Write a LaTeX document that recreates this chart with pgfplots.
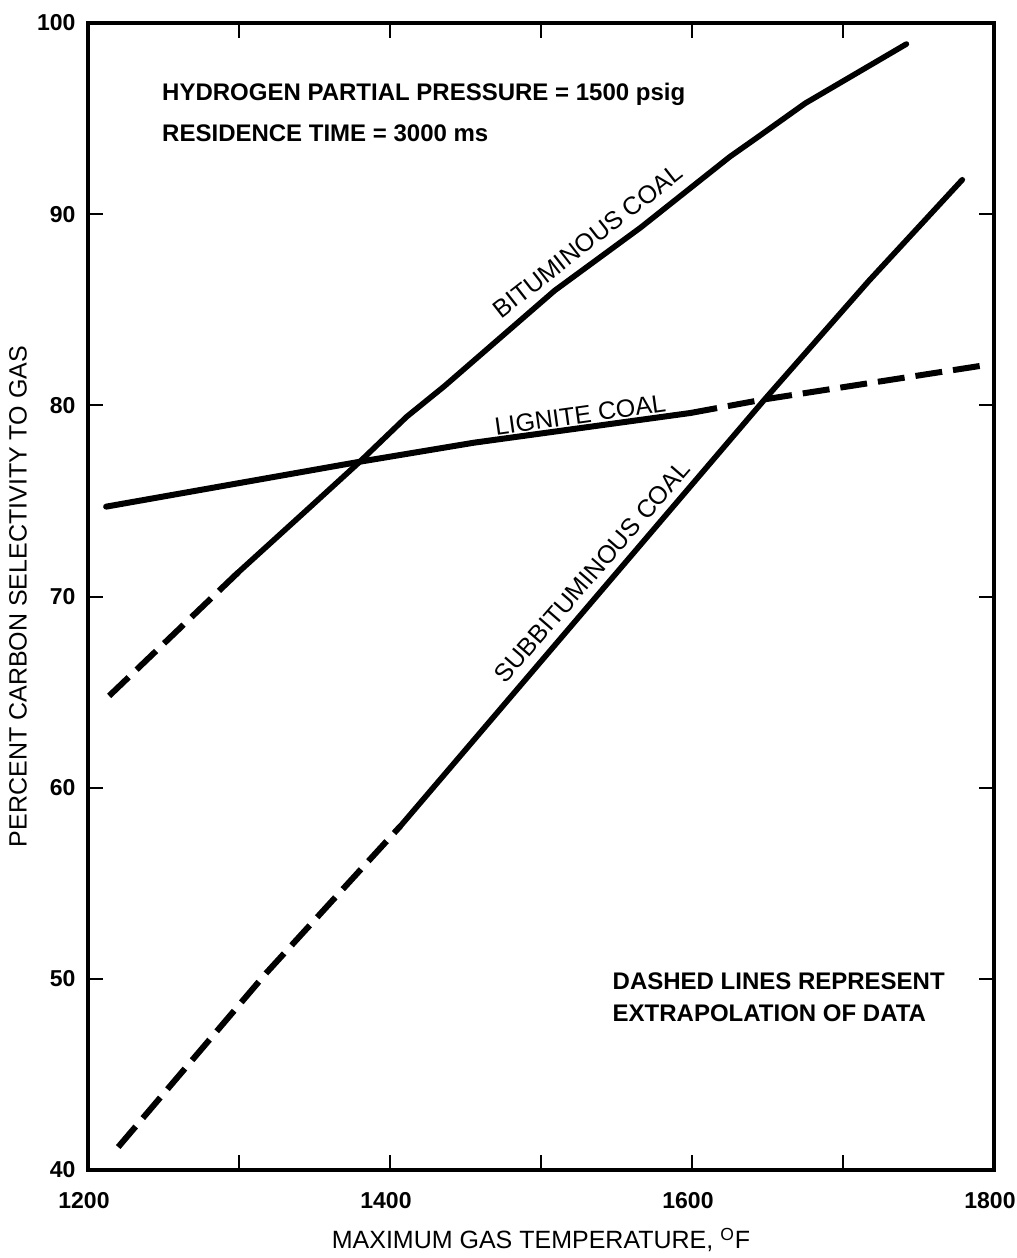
\documentclass[border=0pt]{standalone}
\usepackage{pgfplots}
\pgfplotsset{compat=1.18}
\usepackage{fontspec}
\setmainfont{Liberation Sans}

\begin{document}
\begin{tikzpicture}
\useasboundingbox (-44pt,-44pt) rectangle (464.5pt,585pt);
\begin{axis}[
  at={(0,0)}, anchor=south west,
  scale only axis, width=453pt, height=573.5pt,
  xmin=1200, xmax=1800, ymin=40, ymax=100,
  xtick={1200,1300,1400,1500,1600,1700,1800},
  xticklabels={1200,,1400,,1600,,1800},
  ytick={40,50,60,70,80,90,100},
  tick align=inside,
  major tick length=7.5pt,
  every tick/.style={black, line width=1pt},
  axis line style={line width=1.75pt},
  tick label style={font=\fontsize{11.5}{13}\selectfont\bfseries},
  /pgf/number format/assume math mode=true,
  /pgf/number format/1000 sep={},
  xticklabel style={yshift=-7.5pt, xshift=-2pt},
  yticklabel style={xshift=-2.7pt},
  every axis x label/.style={at={(rel axis cs:0.5,0)}, anchor=center, yshift=-35pt},
  every axis y label/.style={at={(rel axis cs:0,0.5)}, anchor=center, xshift=-35pt, rotate=90},
  xlabel={MAXIMUM GAS TEMPERATURE, \textsuperscript{O}F},
  ylabel={PERCENT CARBON SELECTIVITY TO GAS},
  label style={font=\fontsize{12.5}{14}\selectfont},
  clip=false,
]
% Lignite coal
\addplot[black, line width=3pt, line cap=round] coordinates {
  (1212,74.7) (1380,77.05) (1456,78.05) (1599,79.6)
};
\addplot[black, line width=3pt, dash pattern=on 13.5pt off 5.5pt] coordinates {
  (1599,79.6) (1647,80.3) (1794,82.1)
};
% Bituminous coal
\addplot[black, line width=3pt, dash pattern=on 13.5pt off 5.5pt] coordinates {
  (1214,64.8) (1300,71.3)
};
\addplot[black, line width=2.8pt, line cap=round, line join=round] coordinates {
  (1300,71.3) (1346,74.6) (1380,77.05) (1411,79.4) (1436,81.0) (1509,86.0)
  (1566,89.3) (1625,93.0) (1643,94.0) (1675,95.8) (1742,98.9)
};
% Subbituminous coal
\addplot[black, line width=3pt, dash pattern=on 13.5pt off 5.5pt] coordinates {
  (1220,41.2) (1318,50.3) (1407,58.0)
};
\addplot[black, line width=2.8pt, line cap=round, line join=round] coordinates {
  (1407,58.0) (1648,80.3) (1717,86.5) (1779,91.8)
};

\node[anchor=base west, inner sep=0pt, font=\fontsize{12}{14}\selectfont\bfseries]
  at (rel axis cs:0.0815,0.9328) {HYDROGEN PARTIAL PRESSURE = 1500 psig};
\node[anchor=base west, inner sep=0pt, font=\fontsize{12}{14}\selectfont\bfseries]
  at (rel axis cs:0.0815,0.897) {RESIDENCE TIME = 3000 ms};
\node[anchor=base west, inner sep=0pt, font=\fontsize{12}{14}\selectfont\bfseries]
  at (rel axis cs:0.5787,0.1574) {DASHED LINES REPRESENT};
\node[anchor=base west, inner sep=0pt, font=\fontsize{12}{14}\selectfont\bfseries]
  at (rel axis cs:0.5787,0.1295) {EXTRAPOLATION OF DATA};

\node[rotate=38, inner sep=0pt, font=\fontsize{12.5}{14}\selectfont]
  at (axis cs:1531,88.6) {BITUMINOUS COAL};
\node[rotate=8, inner sep=0pt, font=\fontsize{12.5}{14}\selectfont]
  at (axis cs:1526,79.5) {LIGNITE COAL};
\node[rotate=49, inner sep=0pt, font=\fontsize{12.5}{14}\selectfont]
  at (axis cs:1534,71.3) {SUBBITUMINOUS COAL};
\end{axis}
\end{tikzpicture}
\end{document}
